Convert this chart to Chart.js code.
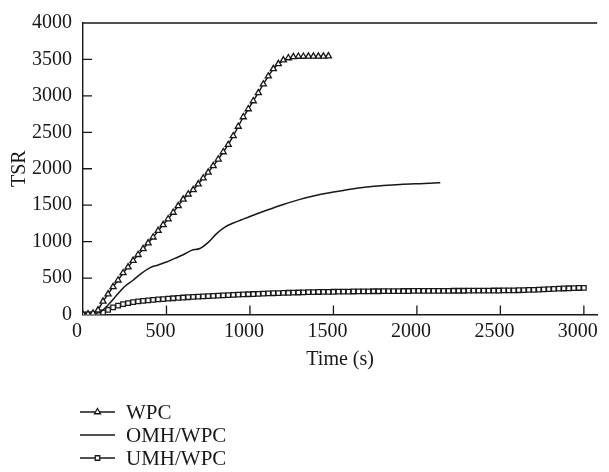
<!DOCTYPE html>
<html>
<head>
<meta charset="utf-8">
<title>TSR vs time</title>
<script src="https://cdn.jsdelivr.net/npm/chart.js@4/dist/chart.umd.min.js"></script>
<style>
  html, body { margin: 0; padding: 0; background: #fff; }
  #wrap { position: relative; width: 609px; height: 472px; }
</style>
</head>
<body>
<div id="wrap"><canvas id="chart" width="609" height="472"></canvas></div>
<script>
// Values (time in s, TSR dimensionless)
const wpcTime = [0, 30, 60, 90, 120, 150, 180, 210, 240, 270, 300, 330, 360, 390, 420, 450, 480, 510, 540, 570,
  600, 630, 660, 690, 720, 750, 780, 810, 840, 870, 900, 930, 960, 990, 1020, 1050, 1080, 1110, 1140, 1170,
  1200, 1230, 1260, 1290, 1320, 1350, 1380, 1410, 1440, 1470];
const wpcTsr = [0, 5, 15, 60, 180, 280, 380, 470, 570, 650, 740, 820, 900, 980, 1060, 1150, 1230, 1310, 1400, 1490,
  1580, 1650, 1710, 1790, 1870, 1950, 2040, 2130, 2230, 2330, 2450, 2580, 2710, 2820, 2930, 3040, 3160, 3270, 3370, 3440,
  3490, 3520, 3535, 3540, 3540, 3542, 3542, 3543, 3543, 3545];

const omhTime = [0, 50, 100, 150, 200, 250, 300, 350, 400, 450, 500, 550, 600, 650, 700, 750, 800, 850, 900, 950,
  1000, 1100, 1200, 1300, 1400, 1500, 1600, 1700, 1800, 1900, 2000, 2100, 2140];
const omhTsr = [0, 5, 30, 130, 260, 385, 470, 565, 640, 680, 720, 770, 820, 880, 905, 990, 1110, 1200, 1255, 1300,
  1345, 1430, 1510, 1580, 1635, 1680, 1720, 1750, 1770, 1785, 1795, 1803, 1808];

const umhTime = [0, 30, 60, 90, 120, 150, 180, 210, 240, 270, 300, 330, 360, 390, 420, 450, 480, 510, 540, 570,
  600, 630, 660, 690, 720, 750, 780, 810, 840, 870, 900, 930, 960, 990, 1020, 1050, 1080, 1110, 1140, 1170,
  1200, 1230, 1260, 1290, 1320, 1350, 1380, 1410, 1440, 1470, 1500, 1530, 1560, 1590, 1620, 1650, 1680, 1710, 1740, 1770,
  1800, 1830, 1860, 1890, 1920, 1950, 1980, 2010, 2040, 2070, 2100, 2130, 2160, 2190, 2220, 2250, 2280, 2310, 2340, 2370,
  2400, 2430, 2460, 2490, 2520, 2550, 2580, 2610, 2640, 2670, 2700, 2730, 2760, 2790, 2820, 2850, 2880, 2910, 2940, 2970,
  3000];
const umhTsr = [0, 2, 4, 10, 30, 65, 98, 122, 142, 157, 170, 180, 188, 195, 201, 207, 212, 218, 223, 228,
  233, 237, 241, 245, 249, 253, 256, 260, 263, 266, 269, 272, 275, 278, 281, 284, 287, 290, 292, 294,
  296, 298, 300, 302, 304, 306, 307, 309, 310, 311, 312, 313, 314, 315, 316, 317, 318, 318, 319, 319,
  320, 320, 321, 321, 322, 322, 323, 323, 324, 324, 324, 325, 325, 325, 326, 326, 326, 327, 327, 327,
  328, 328, 329, 329, 330, 331, 332, 333, 335, 337, 339, 342, 345, 348, 351, 354, 357, 360, 362, 364,
  366];

const timeTicks = [0, 500, 1000, 1500, 2000, 2500, 3000];
const tsrTicks = [0, 500, 1000, 1500, 2000, 2500, 3000, 3500, 4000];

(function () {
  'use strict';

  const ink = '#1a1718';
  const serif = "'Liberation Serif', 'Times New Roman', serif";

  const toPoints = (xs, ys) => xs.map((t, i) => ({ x: t, y: ys[i] }));

  /**
   * Top frame line and inward-pointing tick marks.
   */
  const frameTicks = {
    id: 'frameTicks',
    afterDraw(chart) {
      const { ctx, chartArea: area, scales: { x, y } } = chart;
      ctx.save();
      ctx.strokeStyle = ink;
      ctx.lineWidth = 1.3;
      ctx.beginPath();
      ctx.moveTo(area.left, area.top);
      ctx.lineTo(area.right, area.top);
      x.ticks.forEach((t) => {
        if (t.value === 0) return;
        const px = x.getPixelForValue(t.value);
        ctx.moveTo(px, area.bottom);
        ctx.lineTo(px, area.bottom - 9);
      });
      y.ticks.forEach((t) => {
        if (t.value === 0 || t.value === 4000) return;
        const py = y.getPixelForValue(t.value);
        ctx.moveTo(area.left, py);
        ctx.lineTo(area.left + 9, py);
      });
      ctx.stroke();
      ctx.restore();
    }
  };

  /**
   * Legend stacked below the plot, one series per row.
   */
  const stackedLegend = {
    id: 'stackedLegend',
    afterDraw(chart) {
      const ctx = chart.ctx;
      chart.data.datasets.forEach((ds, i) => {
        const rowY = 412 + i * 23;
        ctx.save();
        ctx.strokeStyle = ds.borderColor;
        ctx.lineWidth = 1.6;
        ctx.beginPath();
        ctx.moveTo(80, rowY);
        ctx.lineTo(115, rowY);
        ctx.stroke();
        if (ds.pointRadius > 0) {
          ctx.fillStyle = ds.pointBackgroundColor;
          ctx.strokeStyle = ds.pointBorderColor;
          ctx.lineWidth = ds.pointBorderWidth;
          Chart.helpers.drawPoint(ctx, {
            pointStyle: ds.pointStyle,
            radius: ds.pointRadius,
            rotation: 0,
            borderWidth: ds.pointBorderWidth
          }, 97.5, rowY);
        }
        ctx.fillStyle = ink;
        ctx.font = '21px ' + serif;
        ctx.textBaseline = 'middle';
        ctx.textAlign = 'left';
        ctx.fillText(ds.label, 126, rowY + 1);
        ctx.restore();
      });
    }
  };

  const plainNumber = (v) => String(v);

  new Chart(document.getElementById('chart'), {
    type: 'line',
    data: {
      datasets: [
        {
          label: 'WPC',
          data: toPoints(wpcTime, wpcTsr),
          borderColor: ink,
          borderWidth: 1.5,
          pointStyle: 'triangle',
          pointRadius: 3.5,
          pointBackgroundColor: '#fff',
          pointBorderColor: ink,
          pointBorderWidth: 1.3
        },
        {
          label: 'OMH/WPC',
          data: toPoints(omhTime, omhTsr),
          borderColor: ink,
          borderWidth: 1.5,
          pointRadius: 0,
          cubicInterpolationMode: 'monotone'
        },
        {
          label: 'UMH/WPC',
          data: toPoints(umhTime, umhTsr),
          borderColor: ink,
          borderWidth: 1.5,
          pointStyle: 'rect',
          pointRadius: 3.2,
          pointBackgroundColor: '#fff',
          pointBorderColor: ink,
          pointBorderWidth: 1.3
        }
      ]
    },
    options: {
      responsive: false,
      animation: false,
      devicePixelRatio: 1,
      layout: { padding: { top: 17, right: 2, bottom: 100, left: 0 } },
      plugins: { legend: { display: false }, tooltip: { enabled: false } },
      scales: {
        x: {
          type: 'linear',
          min: 0,
          max: 3080,
          border: { color: ink, width: 1.4 },
          grid: { display: false, drawTicks: false },
          ticks: {
            color: ink,
            font: { family: serif, size: 20 },
            padding: 5,
            labelOffset: -6,
            maxRotation: 0,
            autoSkip: false,
            callback: plainNumber
          },
          afterBuildTicks: (s) => { s.ticks = timeTicks.map((v) => ({ value: v })); },
          afterFit: (s) => { s.height = 57.5; },
          title: {
            display: true,
            text: 'Time (s)',
            color: ink,
            font: { family: serif, size: 20 },
            padding: { top: 0, bottom: 0 }
          }
        },
        y: {
          type: 'linear',
          min: 0,
          max: 4000,
          border: { color: ink, width: 1.4 },
          grid: { display: false, drawTicks: false },
          ticks: {
            color: ink,
            font: { family: serif, size: 20 },
            padding: 11,
            autoSkip: false,
            callback: plainNumber
          },
          afterBuildTicks: (s) => { s.ticks = tsrTicks.map((v) => ({ value: v })); },
          afterFit: (s) => { s.width = 83; },
          title: {
            display: true,
            text: 'TSR',
            color: ink,
            font: { family: serif, size: 20 },
            padding: { top: 8, bottom: 0 }
          }
        }
      }
    },
    plugins: [frameTicks, stackedLegend]
  });
})();
</script>
</body>
</html>
